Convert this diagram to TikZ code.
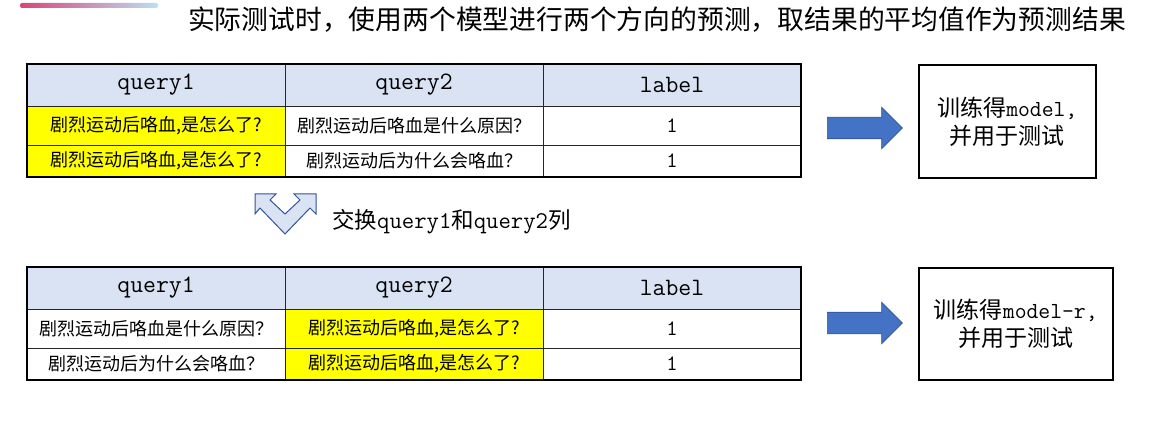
\documentclass[tikz,border=0pt]{standalone}
\usepackage{fontspec}
\setmainfont{Noto Sans CJK SC}
\usetikzlibrary{positioning,shapes.arrows}
\definecolor{headblue}{HTML}{DAE3F3}
\definecolor{arrowblue}{HTML}{4472C4}
\definecolor{arrowedge}{HTML}{2F528F}
\definecolor{swapedge}{HTML}{2F5597}
\definecolor{markyellow}{HTML}{FFFF00}
\definecolor{gradpink}{HTML}{D9447A}
\definecolor{gradpurple}{HTML}{B07CE8}
\definecolor{gradblue}{HTML}{B9E0F5}
\newcommand{\lat}[2][24]{{\ttfamily\fontsize{#1}{#1}\selectfont #2}}
\tikzset{
    cell/.style={draw=black!85, line width=0.8pt, outer sep=0pt, inner sep=0pt, minimum width=258pt, align=center},
    headcell/.style={cell, fill=headblue, minimum height=42pt, font=\ttfamily\fontsize{25}{27}\selectfont},
    rowcell/.style={cell, fill=white, minimum height=39pt, font=\fontsize{18}{20}\selectfont},
    lastcell/.style={rowcell, minimum height=32pt},
    marked/.style={fill=markyellow},
    numtext/.style={font=\ttfamily\fontsize{22}{24}\selectfont},
    tableframe/.style={draw=black, line width=1.3pt},
    bigarrow/.style={single arrow, draw=arrowedge, fill=arrowblue, line width=0.6pt, minimum height=75pt, single arrow head extend=10pt, inner sep=0pt, outer sep=0pt},
    modelbox/.style={draw=black, line width=1.6pt, align=center, inner sep=0pt, font=\fontsize{23}{28}\selectfont},
    swapshape/.style={draw=swapedge, fill=headblue, line width=1pt, line join=miter},
    titletext/.style={inner sep=0pt, font=\fontsize{26.8}{30}\selectfont},
    swaptext/.style={inner sep=0pt, font=\fontsize{22.5}{26}\selectfont}
}
\begin{document}
\begin{tikzpicture}[x=1pt, y=-1pt]
    \useasboundingbox (0,0) rectangle (1160,441);
    % decoration line and title
    \shade[left color=gradpink, middle color=gradpurple, right color=gradblue, rounded corners=2pt] (20,3) rectangle (158,8);
    \node[titletext] (title) at (657,20) {实际测试时，使用两个模型进行两个方向的预测，取结果的平均值作为预测结果};

    % first table
    \node[headcell, anchor=north west] (a-h1) at (27,64) {query1};
    \node[headcell, right=0pt of a-h1] (a-h2) {query2};
    \node[headcell, right=0pt of a-h2] (a-h3) {label};
    \node[rowcell, marked, below=0pt of a-h1] (a-11) {剧烈运动后咯血,是怎么了?};
    \node[rowcell, right=0pt of a-11] (a-12) {剧烈运动后咯血是什么原因？};
    \node[rowcell, numtext, right=0pt of a-12] (a-13) {1};
    \node[lastcell, marked, below=0pt of a-11] (a-21) {剧烈运动后咯血,是怎么了?};
    \node[lastcell, right=0pt of a-21] (a-22) {剧烈运动后为什么会咯血？};
    \node[lastcell, numtext, right=0pt of a-22] (a-23) {1};
    \draw[tableframe] (a-h1.north west) rectangle (a-23.south east);

    % swap mark
    \draw[swapshape] (255,194) -- (276,194) -- (270,200) -- (285,214) -- (300,200) -- (294,194) -- (316,194) -- (316,214) -- (310,208) -- (285,234) -- (260,208) -- (255,214) -- cycle;
    \node[swaptext, anchor=west] (swap) at (332,222) {交换\lat{query1}和\lat{query2}列};

    % second table
    \node[headcell, anchor=north west] (b-h1) at (27,267) {query1};
    \node[headcell, right=0pt of b-h1] (b-h2) {query2};
    \node[headcell, right=0pt of b-h2] (b-h3) {label};
    \node[rowcell, below=0pt of b-h1] (b-11) {剧烈运动后咯血是什么原因？};
    \node[rowcell, marked, right=0pt of b-11] (b-12) {剧烈运动后咯血,是怎么了?};
    \node[rowcell, numtext, right=0pt of b-12] (b-13) {1};
    \node[lastcell, below=0pt of b-11] (b-21) {剧烈运动后为什么会咯血？};
    \node[lastcell, marked, right=0pt of b-21] (b-22) {剧烈运动后咯血,是怎么了?};
    \node[lastcell, numtext, right=0pt of b-22] (b-23) {1};
    \draw[tableframe] (b-h1.north west) rectangle (b-23.south east);

    % arrows and model boxes
    \node[bigarrow] (arr-a) at (859.5,128) {\rule{0pt}{21pt}};
    \node[bigarrow] (arr-b) at (859.5,323) {\rule{0pt}{21pt}};
    \node[modelbox, anchor=north west, minimum width=177pt, minimum height=113pt] (model-a) at (918,64) {训练得\lat[23]{model,}\\并用于测试};
    \node[modelbox, anchor=north west, minimum width=194pt, minimum height=112pt] (model-b) at (918,267) {训练得\lat[23]{model-r,}\\并用于测试};
\end{tikzpicture}
\end{document}
